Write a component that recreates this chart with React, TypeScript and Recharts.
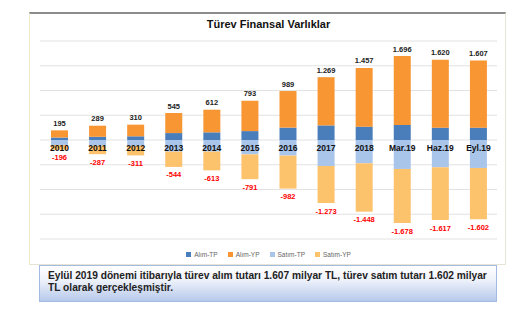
import React from "react";
import { BarChart, Bar, XAxis, YAxis, CartesianGrid, LabelList } from "recharts";

// periods shown on the x axis
const periods = ["2010", "2011", "2012", "2013", "2014", "2015", "2016", "2017", "2018", "Mar.19", "Haz.19", "Eyl.19"];

// purchases (positive stack), billion TL
const alimTP = [50, 65, 75, 140, 155, 180, 250, 295, 270, 305, 250, 250];
const alimYP = [145, 224, 235, 405, 457, 613, 739, 974, 1187, 1391, 1370, 1357];
const alimTotal = [195, 289, 310, 545, 612, 793, 989, 1269, 1457, 1696, 1620, 1607];

// sales (negative stack)
const satimTP = [-100, -115, -120, -235, -235, -290, -315, -525, -470, -585, -550, -565];
const satimYP = [-96, -172, -191, -309, -378, -501, -667, -748, -978, -1093, -1067, -1037];
const satimTotal = [-196, -287, -311, -544, -613, -791, -982, -1273, -1448, -1678, -1617, -1602];

const yTicks = [-2000, -1500, -1000, -500, 0, 500, 1000, 1500, 2000];

const COLORS = {
  alimTP: "#4a7ebb",
  alimYP: "#f79633",
  satimTP: "#a9c5ea",
  satimYP: "#fdc26c",
};

const FONT = "'Liberation Sans', Arial, sans-serif";

const data = periods.map((name, i) => ({
  name,
  alimTP: alimTP[i],
  alimYP: alimYP[i],
  satimTP: satimTP[i],
  satimYP: satimYP[i],
  alimTotal: alimTotal[i],
  satimTotal: satimTotal[i],
}));

// Turkish style thousands separator: 1696 -> 1.696
const fmt = (v: number) => {
  const s = String(Math.abs(v));
  const out = s.length > 3 ? s.slice(0, s.length - 3) + "." + s.slice(-3) : s;
  return (v < 0 ? "-" : "") + out;
};

const TopLabel = (props: any) => {
  const { x, y, width, height, value } = props;
  const top = Math.min(y, y + height);
  return (
    <text x={x + width / 2} y={top - 7} textAnchor="middle" dominantBaseline="central" fontSize={7.5} fontWeight="bold" fill="#222" fontFamily={FONT}>
      {fmt(value)}
    </text>
  );
};

const BottomLabel = (props: any) => {
  const { x, y, width, height, value } = props;
  const bottom = Math.max(y, y + height);
  return (
    <text x={x + width / 2} y={bottom + 8} textAnchor="middle" dominantBaseline="central" fontSize={7.5} fontWeight="bold" fill="#ff0000" fontFamily={FONT}>
      {fmt(value)}
    </text>
  );
};

const CategoryLabel = (props: any) => {
  const { x, y, width, height, value } = props;
  const top = Math.min(y, y + height);
  return (
    <text x={x + width / 2} y={top + 8} textAnchor="middle" dominantBaseline="central" fontSize={8.5} fontWeight="bold" fill="#111" fontFamily={FONT}>
      {value}
    </text>
  );
};

const legendItems = [
  { label: "Alım-TP", color: COLORS.alimTP },
  { label: "Alım-YP", color: COLORS.alimYP },
  { label: "Satım-TP", color: COLORS.satimTP },
  { label: "Satım-YP", color: COLORS.satimYP },
];

export default function App() {
  return (
    <div style={{ position: "absolute", left: 0, top: 0, width: 521, height: 321, background: "#fff", fontFamily: FONT }}>
      {/* chart frame */}
      <div
        style={{
          position: "absolute",
          left: 29,
          top: 12,
          width: 477,
          height: 253,
          borderTop: "2px solid #8c8c8c",
          borderLeft: "1px solid #eeeacb",
          borderRight: "1px solid #e6e4d4",
          borderBottom: "1px solid #e6e4d4",
          boxSizing: "border-box",
        }}
      />
      <div style={{ position: "absolute", left: 30, top: 18, width: 477, textAlign: "center", fontSize: 11, fontWeight: "bold", color: "#111" }}>
        Türev Finansal Varlıklar
      </div>
      <div style={{ position: "absolute", left: 30, top: 13 }}>
        <BarChart width={477} height={252} data={data} stackOffset="sign" barSize={17} margin={{ top: 28, right: 10, bottom: 26, left: 10 }}>
          <CartesianGrid vertical={false} stroke="#e2e2e2" />
          <XAxis dataKey="name" hide />
          <YAxis hide domain={[-2000, 2000]} ticks={yTicks} />
          <Bar dataKey="alimTP" stackId="a" fill={COLORS.alimTP} isAnimationActive={false} />
          <Bar dataKey="alimYP" stackId="a" fill={COLORS.alimYP} isAnimationActive={false}>
            <LabelList dataKey="alimTotal" content={TopLabel} />
          </Bar>
          <Bar dataKey="satimTP" stackId="a" fill={COLORS.satimTP} isAnimationActive={false}>
            <LabelList dataKey="name" content={CategoryLabel} />
          </Bar>
          <Bar dataKey="satimYP" stackId="a" fill={COLORS.satimYP} isAnimationActive={false}>
            <LabelList dataKey="satimTotal" content={BottomLabel} />
          </Bar>
        </BarChart>
      </div>
      {/* legend */}
      <div style={{ position: "absolute", left: 30, top: 251, width: 477, display: "flex", justifyContent: "center", gap: 10, fontSize: 6.5, color: "#666" }}>
        {legendItems.map((it) => (
          <span key={it.label} style={{ display: "flex", alignItems: "center" }}>
            <span style={{ display: "inline-block", width: 5, height: 5, background: it.color, marginRight: 3 }} />
            {it.label}
          </span>
        ))}
      </div>
      {/* note box */}
      <div
        style={{
          position: "absolute",
          left: 39,
          top: 265,
          width: 458,
          height: 37,
          boxSizing: "border-box",
          border: "1px solid #a3bbe3",
          background: "linear-gradient(#ffffff, #eef2fa 40%, #b7c9eb)",
          padding: "4px 8px",
          fontSize: 10.2,
          fontWeight: "bold",
          lineHeight: "11.5px",
          color: "#222",
          whiteSpace: "nowrap",
        }}
      >
        Eylül 2019 dönemi itibarıyla türev alım tutarı 1.607 milyar TL, türev satım tutarı 1.602 milyar
        <br />
        TL olarak gerçekleşmiştir.
      </div>
    </div>
  );
}
